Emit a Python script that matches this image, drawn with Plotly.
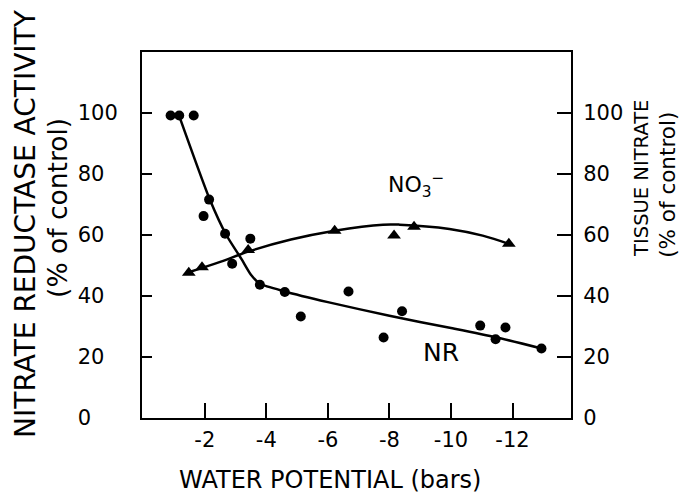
import plotly.graph_objects as go

# NR (nitrate reductase activity, % of control) observations
nr_x = [-0.89, -1.17, -1.64, -1.96, -2.14, -2.66, -2.89, -3.48, -3.79, -4.60,
        -5.12, -6.67, -7.81, -8.41, -10.95, -11.45, -11.77, -12.94]
nr_y = [99.2, 99.2, 99.2, 66.2, 71.6, 60.4, 50.6, 58.8, 43.7, 41.3,
        33.3, 41.5, 26.4, 35.0, 30.3, 25.8, 29.7, 22.8]
# hand-drawn NR curve
nr_curve_x = [-1.17, -2.15, -2.70, -3.20, -3.50, -3.80, -4.60, -6.00, -8.00, -10.00, -11.45, -12.94]
nr_curve_y = [99.0, 72.0, 60.0, 52.0, 47.0, 44.0, 41.5, 38.0, 33.5, 29.5, 26.5, 22.8]

# Tissue nitrate (% of control) observations
no3_x = [-1.48, -1.91, -3.41, -6.22, -8.15, -8.80, -11.88]
no3_y = [47.6, 49.4, 55.1, 61.4, 59.8, 62.7, 57.1]
# hand-drawn NO3 curve
no3_curve_x = [-1.48, -2.5, -3.46, -4.8, -6.22, -7.79, -8.33, -9.95, -11.03, -11.88]
no3_curve_y = [47.8, 51.2, 54.7, 58.5, 61.4, 63.4, 63.4, 62.0, 59.8, 57.1]

x_tick_vals = [-2, -4, -6, -8, -10, -12]
x_tick_text = ["-2", "-4", "-6", "-8", "-10", "-12"]
y_tick_vals = [0, 20, 40, 60, 80, 100]
y_tick_text = ["0", "20", "40", "60", "80", "100"]

FS = "\u2007"  # figure space, used to left-align the left-axis labels
y_tick_text_left = [t + FS * (3 - len(t)) for t in y_tick_text]

FONT = "DejaVu Sans"
fig = go.Figure()
fig.add_trace(go.Scatter(x=nr_curve_x, y=nr_curve_y, mode="lines",
                         line=dict(color="black", width=2.5, shape="spline", smoothing=0.6),
                         hoverinfo="skip"))
fig.add_trace(go.Scatter(x=nr_x, y=nr_y, mode="markers",
                         marker=dict(symbol="circle", size=10, color="black")))
fig.add_trace(go.Scatter(x=no3_curve_x, y=no3_curve_y, mode="lines",
                         line=dict(color="black", width=2.5, shape="spline"),
                         hoverinfo="skip", yaxis="y2"))
fig.add_trace(go.Scatter(x=no3_x, y=no3_y, mode="markers", yaxis="y2",
                         marker=dict(symbol="triangle-up", size=12, color="black")))

axis_common = dict(showline=True, linecolor="black", linewidth=2, showgrid=False,
                   zeroline=False, ticks="inside", tickcolor="black", tickwidth=2,
                   tickfont=dict(family=FONT, size=21, color="black"))

fig.update_layout(
    width=689, height=493,
    margin=dict(l=142, r=118, t=52, b=75),
    paper_bgcolor="white", plot_bgcolor="white",
    showlegend=False,
    xaxis=dict(range=[0.04, -13.9], tickvals=x_tick_vals, ticktext=x_tick_text,
               ticklen=15, mirror=True, ticklabelstandoff=2, **axis_common),
    yaxis=dict(range=[0, 120], tickvals=y_tick_vals, ticktext=y_tick_text_left,
               ticklen=10, ticklabelstandoff=18, **axis_common),
    yaxis2=dict(range=[0, 120], tickvals=y_tick_vals, ticktext=y_tick_text,
                overlaying="y", side="right", ticklen=14, ticklabelstandoff=6,
                **axis_common),
)

def note(text, x, y, size, angle=0, ref="paper"):
    fig.add_annotation(text=text, xref=ref if ref == "paper" else "x",
                       yref=ref if ref == "paper" else "y",
                       x=x, y=y, textangle=angle, showarrow=False,
                       xanchor="center", yanchor="middle",
                       font=dict(family=FONT, size=size, color="black"))

note("NITRATE REDUCTASE ACTIVITY", -0.2704, 0.533, 28, -90)
note("(% of control)", -0.1958, 0.574, 26.5, -90)
note("TISSUE NITRATE", 1.1655, 0.656, 19.5, -90)
note("(% of control)", 1.226, 0.637, 21.5, -90)
note("WATER POTENTIAL (bars)", 0.438, -0.169, 24)
note("NO<sub>3</sub><sup>−</sup>", -8.85, 76.5, 22, ref="data")
note("NR", -9.66, 21.6, 25, ref="data")

fig.write_html("out.html")
